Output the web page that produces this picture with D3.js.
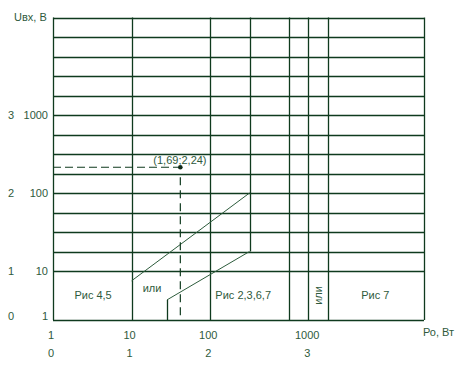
<!DOCTYPE html>
<html>
<head>
<meta charset="utf-8">
<script src="https://cdn.jsdelivr.net/npm/d3@7"></script>
<style>
  body { margin: 0; background: #fff; }
  text { font-family: "Liberation Sans", Arial, sans-serif; font-size: 11px; fill: #2f5a3c; }
</style>
</head>
<body>
<div class="chart"></div>
<script>
var svgWidth = 466;
var svgHeight = 367;

// all values are log10 of the real quantity
var xGrid = [0, 1, 2, 2.5, 3, 3.25, 3.5, 4.72];
var xGridBottom = [0, 0, 0, 1.25, 0, 0, 0, 0];
var yGrid = [0, 1, 1.25, 1.5, 1.75, 2, 2.25, 2.5, 2.75, 3, 3.25, 3.5, 3.75, 4, 4.25];

var xTicks = [0, 1, 2, 3];
var xTickLabels = ["1", "10", "100", "1000"];
var xTickPos = [0, 1, 2, 3.26];
var yTicks = [0, 1, 2, 3];
var yTickLabels = ["1", "10", "100", "1000"];
var yTickPos = [0.08, 1, 2, 3];

// boundary lines of the zones
var upperLine = [[1, 0.8], [2.5, 2]];
var lowerLine = [[1.45, 0.41], [2.5, 1.25]];
var lowerStep = [[1.45, 0], [1.45, 0.41]];

// working point
var point = { x: 1.62, y: 2.33, label: "(1,69;2,24)" };

var zones = [
  { x: 0.51, y: 0.5, text: "Рис 4,5" },
  { x: 1.26, y: 0.64, text: "или" },
  { x: 2.42, y: 0.5, text: "Рис 2,3,6,7" },
  { x: 4.1, y: 0.5, text: "Рис 7" }
];

var xScale = d3.scaleLinear().domain([0, 1]).range([53, 131.6]);
var yScale = d3.scaleLinear().domain([0, 1, 2]).range([320, 271, 193]);

var svg = d3.select(".chart")
  .append("svg")
  .attr("width", svgWidth)
  .attr("height", svgHeight);

var lineColor = "#0f3a1e";

// horizontal grid
svg.selectAll(".hline")
  .data(yGrid)
  .enter()
  .append("line")
  .attr("x1", xScale(0))
  .attr("x2", xScale(4.72))
  .attr("y1", d => Math.round(yScale(d)) + 0.5)
  .attr("y2", d => Math.round(yScale(d)) + 0.5)
  .attr("stroke", lineColor)
  .attr("stroke-width", 1.3);

// vertical grid
svg.selectAll(".vline")
  .data(xGrid)
  .enter()
  .append("line")
  .attr("x1", d => Math.round(xScale(d)) + 0.5)
  .attr("x2", d => Math.round(xScale(d)) + 0.5)
  .attr("y1", (d, i) => yScale(xGridBottom[i]))
  .attr("y2", yScale(4.25))
  .attr("stroke", lineColor)
  .attr("stroke-width", 1.3);

var line = d3.line()
  .x(d => xScale(d[0]))
  .y(d => yScale(d[1]));

svg.append("path")
  .attr("d", line(upperLine))
  .attr("fill", "none")
  .attr("stroke", "#2d5c3c")
  .attr("stroke-width", 1);

svg.append("path")
  .attr("d", line(lowerLine))
  .attr("fill", "none")
  .attr("stroke", "#2d5c3c")
  .attr("stroke-width", 1);

svg.append("line")
  .attr("x1", Math.round(xScale(lowerStep[0][0])) + 0.5)
  .attr("x2", Math.round(xScale(lowerStep[1][0])) + 0.5)
  .attr("y1", yScale(lowerStep[0][1]))
  .attr("y2", yScale(lowerStep[1][1]))
  .attr("stroke", lineColor)
  .attr("stroke-width", 1.3);

// dashed guides to the point
svg.append("line")
  .attr("x1", xScale(0))
  .attr("x2", xScale(point.x))
  .attr("y1", yScale(point.y))
  .attr("y2", yScale(point.y))
  .attr("stroke", lineColor)
  .attr("stroke-width", 1.2)
  .attr("stroke-dasharray", "8,4");

svg.append("line")
  .attr("x1", xScale(point.x))
  .attr("x2", xScale(point.x))
  .attr("y1", yScale(point.y) + 10)
  .attr("y2", yScale(0) - 3)
  .attr("stroke", lineColor)
  .attr("stroke-width", 1.2)
  .attr("stroke-dasharray", "8,5");

svg.append("circle")
  .attr("cx", xScale(point.x))
  .attr("cy", yScale(point.y))
  .attr("r", 2.3)
  .attr("fill", "#0f2a18");

svg.append("text")
  .attr("x", xScale(point.x) - 27)
  .attr("y", yScale(point.y) - 3)
  .text(point.label);

// zone captions
svg.selectAll(".zone")
  .data(zones)
  .enter()
  .append("text")
  .attr("x", d => xScale(d.x))
  .attr("y", d => yScale(d.y))
  .attr("dy", "0.35em")
  .attr("text-anchor", "middle")
  .text(d => d.text);

svg.append("text")
  .attr("transform", `translate(${xScale(3.37) + 4}, ${yScale(0.5)}) rotate(-90)`)
  .attr("text-anchor", "middle")
  .text("или");

// x axis labels
svg.selectAll(".xtick")
  .data(xTicks)
  .enter()
  .append("text")
  .attr("x", (d, i) => xScale(xTickPos[i]) - 2)
  .attr("y", 339)
  .attr("text-anchor", "middle")
  .text((d, i) => xTickLabels[i]);

svg.selectAll(".xlog")
  .data(xTicks)
  .enter()
  .append("text")
  .attr("x", (d, i) => xScale(xTickPos[i]) - 2)
  .attr("y", 357)
  .attr("text-anchor", "middle")
  .text(d => d);

// y axis labels
svg.selectAll(".ytick")
  .data(yTicks)
  .enter()
  .append("text")
  .attr("x", 48)
  .attr("y", (d, i) => yScale(yTickPos[i]))
  .attr("dy", "0.35em")
  .attr("text-anchor", "end")
  .text((d, i) => yTickLabels[i]);

svg.selectAll(".ylog")
  .data(yTicks)
  .enter()
  .append("text")
  .attr("x", 11)
  .attr("y", (d, i) => yScale(yTickPos[i]))
  .attr("dy", "0.35em")
  .attr("text-anchor", "middle")
  .text(d => d);

svg.append("text")
  .attr("x", 14)
  .attr("y", 17)
  .attr("dy", "0.35em")
  .text("Uвх, В");

svg.append("text")
  .attr("x", 423)
  .attr("y", 332)
  .attr("dy", "0.35em")
  .text("Ро, Вт");
</script>
</body>
</html>
